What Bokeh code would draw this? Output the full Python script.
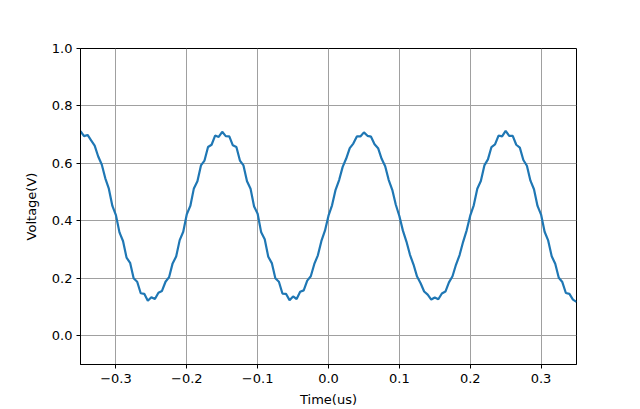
from bokeh.plotting import figure
from bokeh.models import FixedTicker, CustomJSTickFormatter, Range1d
from bokeh.embed import file_html
from bokeh.resources import INLINE

time_us = [round(-0.35 + 0.005 * i, 3) for i in range(141)]

voltage = [
    0.712, 0.695, 0.699, 0.680, 0.662, 0.624, 0.596, 0.548, 0.512, 0.452,
    0.420, 0.360, 0.330, 0.272, 0.254, 0.200, 0.188, 0.148, 0.146, 0.122,
    0.134,
    0.128, 0.150, 0.156, 0.188, 0.204, 0.252, 0.276, 0.333, 0.362, 0.423,
    0.452, 0.513, 0.538, 0.593, 0.610, 0.657, 0.665, 0.697, 0.692, 0.710,
    0.695, 0.694, 0.663, 0.657, 0.610, 0.593, 0.538, 0.512, 0.450, 0.425,
    0.360, 0.336, 0.275, 0.253, 0.200, 0.188, 0.147, 0.146, 0.124, 0.137,
    0.128, 0.153, 0.158, 0.192, 0.207, 0.250, 0.280, 0.330, 0.366, 0.418,
    0.454, 0.508, 0.542, 0.588, 0.617, 0.653, 0.669, 0.694, 0.694, 0.708,
    0.696, 0.693, 0.667, 0.653, 0.616, 0.590, 0.542, 0.508, 0.456, 0.417,
    0.366, 0.328, 0.282, 0.248, 0.206, 0.183, 0.154, 0.143, 0.126, 0.133,
    0.127, 0.147, 0.154, 0.186, 0.207, 0.248, 0.281, 0.327, 0.367, 0.418,
    0.454, 0.512, 0.539, 0.593, 0.614, 0.657, 0.666, 0.697, 0.694, 0.713,
    0.696, 0.696, 0.665, 0.655, 0.612, 0.592, 0.540, 0.510, 0.452, 0.422,
    0.362, 0.332, 0.277, 0.251, 0.202, 0.187, 0.149, 0.146, 0.126, 0.118,
]

x_ticks = [-0.3, -0.2, -0.1, 0.0, 0.1, 0.2, 0.3]
y_ticks = [0.0, 0.2, 0.4, 0.6, 0.8, 1.0]
x_label = "Time(us)"
y_label = "Voltage(V)"

FONT = "DejaVu Sans"

p = figure(width=632, height=409, output_backend="svg", toolbar_location=None,
           x_range=Range1d(-0.35, 0.35), y_range=Range1d(-0.1, 1.0),
           min_border_left=80, min_border_right=56, min_border_top=48, min_border_bottom=45)

p.line(time_us, voltage, line_color="#1f77b4", line_width=2.2)

fmt = CustomJSTickFormatter(code="""
if (Math.abs(tick) < 1e-9) { return '0.0'; }
return tick.toFixed(1).replace('-', '\\u2212');
""")

p.xaxis.ticker = FixedTicker(ticks=x_ticks)
p.yaxis.ticker = FixedTicker(ticks=y_ticks)
for ax in (p.xaxis[0], p.yaxis[0]):
    ax.formatter = fmt
    ax.major_label_text_font = FONT
    ax.major_label_text_font_size = "13px"
    ax.major_label_text_color = "black"
    ax.axis_label_text_font = FONT
    ax.axis_label_text_font_size = "13px"
    ax.axis_label_text_font_style = "normal"
    ax.axis_label_text_color = "black"
    ax.axis_line_color = "black"
    ax.major_tick_line_color = "black"
    ax.major_tick_out = 4
    ax.major_tick_in = 0
    ax.minor_tick_line_color = None

p.xaxis.major_label_standoff = 5
p.yaxis.major_label_standoff = 4
p.xaxis.axis_label = x_label
p.yaxis.axis_label = y_label
p.xaxis.axis_label_standoff = 6
p.yaxis.axis_label_standoff = 10

p.outline_line_color = "black"
p.outline_line_alpha = 1
p.xgrid.grid_line_color = "#a0a0a0"
p.ygrid.grid_line_color = "#a0a0a0"
p.xgrid.grid_line_width = 1
p.ygrid.grid_line_width = 1

open("out.html", "w").write(file_html(p, INLINE))
